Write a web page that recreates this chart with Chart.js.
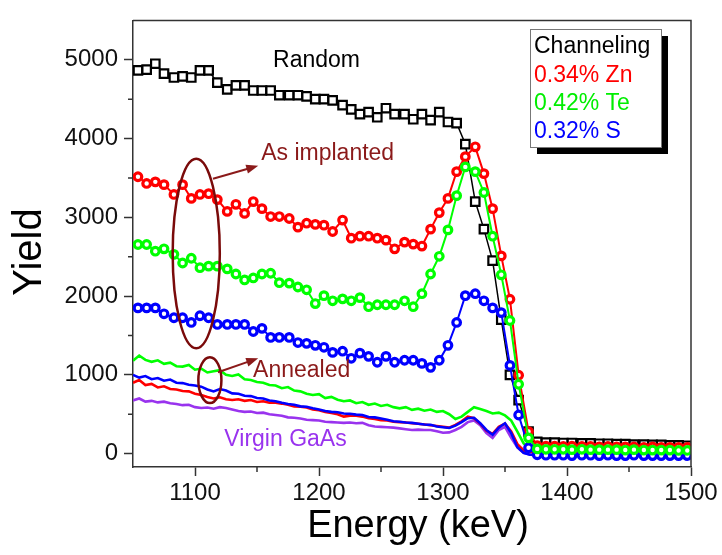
<!DOCTYPE html>
<html>
<head>
<meta charset="utf-8">
<script src="https://cdn.jsdelivr.net/npm/chart.js@4.4.0/dist/chart.umd.min.js"></script>
<style>
  html, body { margin: 0; padding: 0; background: #fff; }
  #wrap { width: 722px; height: 555px; }
</style>
</head>
<body>
<div id="wrap"><canvas id="rbsChart"></canvas></div>
<script>
const FONT = "Arial, 'Liberation Sans', sans-serif";

// channel energies (keV) for the implanted / random spectra
const energy = [1054, 1061, 1068, 1075, 1083, 1090, 1097, 1104, 1111, 1118, 1126, 1133, 1140, 1147, 1154, 1161,
  1168, 1176, 1183, 1190, 1197, 1204, 1211, 1219, 1226, 1233, 1240, 1247, 1254, 1261, 1269, 1276, 1283, 1290,
  1297, 1304, 1311, 1318, 1326, 1333, 1340, 1347, 1354, 1361, 1369, 1376, 1383, 1390, 1397, 1404, 1412, 1419,
  1426, 1433, 1440, 1447, 1454, 1462, 1469, 1476, 1483, 1490, 1497];

const random = [4865, 4875, 4950, 4825, 4775, 4790, 4775, 4865, 4865, 4710, 4625, 4675, 4675, 4610, 4610, 4610,
  4550, 4550, 4550, 4535, 4500, 4500, 4485, 4425, 4370, 4310, 4335, 4270, 4385, 4310, 4310, 4245, 4310, 4235,
  4335, 4210, 4195, 3930, 3200, 2850, 2450, 1700, 1000, 680, 280, 150, 140, 140, 135, 135, 130, 130,
  125, 125, 120, 120, 115, 115, 110, 110, 105, 105, 100];

const implZn = [3515, 3430, 3450, 3415, 3290, 3415, 3240, 3290, 3300, 3225, 3075, 3165, 3050, 3200, 3110, 3010,
  3010, 2985, 2875, 2925, 2910, 2900, 2820, 2965, 2735, 2760, 2760, 2735, 2710, 2600, 2685, 2660, 2635, 2850,
  3060, 3240, 3580, 3770, 3895, 3555, 3110, 2510, 1960, 995, 280, 100, 95, 95, 90, 95, 90, 90,
  85, 90, 85, 85, 85, 80, 85, 80, 80, 80, 80];

const implTe = [2655, 2655, 2570, 2600, 2530, 2420, 2480, 2360, 2380, 2380, 2345, 2280, 2205, 2230, 2280, 2290,
  2170, 2165, 2115, 2080, 1905, 2005, 1940, 1965, 1940, 1980, 1865, 1890, 1890, 1890, 1940, 1865, 2030, 2280,
  2505, 2840, 3275, 3640, 3580, 3315, 2760, 2270, 1690, 880, 200, 60, 55, 55, 55, 50, 55, 50,
  50, 50, 50, 45, 50, 45, 45, 45, 45, 40, 40];

const implS = [1850, 1850, 1850, 1775, 1725, 1725, 1665, 1750, 1725, 1640, 1640, 1640, 1640, 1550, 1590, 1475,
  1475, 1475, 1410, 1400, 1375, 1350, 1285, 1300, 1210, 1275, 1235, 1160, 1235, 1160, 1185, 1185, 1145, 1095,
  1185, 1375, 1665, 2005, 2030, 1940, 1850, 1790, 1120, 490, 75, -15, -20, -20, -20, -25, -20, -20,
  -25, -20, -25, -25, -20, -25, -25, -25, -25, -25, -25];

// finer energy grid for the annealed and virgin spectra
const energyFine = [1050, 1055, 1060, 1065, 1070, 1075, 1080, 1085, 1090, 1095, 1100, 1105, 1110, 1115, 1120,
  1125, 1130, 1135, 1140, 1145, 1150, 1155, 1160, 1165, 1170, 1175, 1180, 1185, 1190, 1195, 1200, 1205, 1210,
  1215, 1220, 1225, 1230, 1235, 1240, 1245, 1250, 1255, 1260, 1265, 1270, 1275, 1280, 1285, 1290, 1295, 1300,
  1305, 1310, 1315, 1320, 1325, 1330, 1335, 1340, 1345, 1350, 1355, 1360, 1365, 1370,
  1385, 1400, 1420, 1440, 1460, 1480, 1500];

const annTe = [1180, 1245, 1190, 1165, 1185, 1140, 1155, 1110, 1105, 1125, 1065, 1080, 1030, 1045, 1060,
  1000, 985, 1005, 945, 935, 910, 900, 870, 865, 830, 845, 800, 790, 760, 745, 755, 705, 720,
  685, 665, 675, 640, 655, 620, 635, 605, 620, 590, 575, 590, 555, 570, 545, 560, 530, 540,
  500, 440, 470, 530, 590, 565, 540, 510, 520, 485, 420, 280, 130, 70,
  60, 55, 50, 50, 45, 45, 40];

const annS = [1000, 965, 985, 945, 960, 925, 940, 900, 895, 875, 865, 850, 815, 790, 820,
  800, 765, 760, 735, 730, 705, 700, 675, 665, 645, 630, 620, 600, 595, 575, 560, 540, 530,
  525, 510, 505, 495, 490, 465, 460, 445, 430, 410, 405, 395, 390, 380, 370, 365, 345, 335,
  325, 355, 400, 450, 455, 385, 300, 240, 330, 385, 260, 80, 10, -15,
  -20, -20, -20, -20, -20, -20, -20];

const annZn = [900, 935, 870, 885, 840, 855, 820, 815, 795, 790, 760, 745, 720, 700, 715,
  690, 680, 690, 670, 680, 655, 665, 645, 645, 635, 620, 600, 595, 585, 560, 550, 530, 515,
  500, 470, 480, 480, 470, 450, 440, 425, 420, 405, 400, 395, 385, 380, 370, 360, 350, 340,
  330, 365, 410, 470, 450, 380, 290, 250, 340, 380, 280, 120, 40, 25,
  20, 20, 20, 20, 20, 20, 20];

const virgin = [675, 700, 660, 670, 650, 660, 640, 630, 615, 620, 590, 580, 585, 570, 590,
  580, 560, 540, 530, 535, 515, 520, 500, 490, 480, 460, 455, 445, 430, 425, 420, 405, 400,
  395, 390, 395, 385, 390, 360, 345, 340, 335, 330, 320, 310, 300, 305, 300, 300, 285, 265,
  270, 300, 340, 400, 420, 360, 260, 200, 300, 340, 200, 80, 10, -10,
  -10, -10, -10, -10, -10, -10, -10];

const xTicks = [1100, 1200, 1300, 1400, 1500];
const yTicks = [0, 1000, 2000, 3000, 4000, 5000];
const xMinor = [1150, 1250, 1350, 1450];
const yMinor = [500, 1500, 2500, 3500, 4500];

const legendLines = ['Channeling', '0.34% Zn', '0.42% Te', '0.32% S'];
const legendColors = ['#000000', '#ff0000', '#00ee00', '#0000ff'];

const RED = '#ff0000', GREEN = '#00ff00', BLUE = '#0000ff', PURPLE = '#9933ee', DARKRED = '#8b1a1a';

const pts = (xs, ys) => xs.map((x, i) => ({ x: x, y: ys[i] }));

function circles(label, ys, color) {
  return {
    label: label,
    data: pts(energy, ys),
    borderColor: color,
    borderWidth: 2,
    pointStyle: 'circle',
    pointRadius: 3.8,
    pointBorderWidth: 3.2,
    pointBorderColor: color,
    pointBackgroundColor: '#ffffff',
    tension: 0
  };
}

function noisy(label, ys, color) {
  return {
    label: label,
    data: pts(energyFine, ys),
    borderColor: color,
    borderWidth: 2.6,
    pointRadius: 0,
    tension: 0
  };
}

// frame, minor ticks, titles, annotations and the text legend
const decorations = {
  id: 'decorations',
  afterDatasetsDraw(chart) {
    const { ctx, chartArea: a, scales: { x, y } } = chart;
    ctx.save();

    // box around the plot
    ctx.strokeStyle = '#333';
    ctx.lineWidth = 1.5;
    ctx.beginPath();
    ctx.moveTo(a.left, a.top);
    ctx.lineTo(a.right, a.top);
    ctx.lineTo(a.right, a.bottom);
    ctx.stroke();

    // minor ticks
    ctx.beginPath();
    xMinor.forEach(v => {
      const px = x.getPixelForValue(v);
      ctx.moveTo(px, a.bottom);
      ctx.lineTo(px, a.bottom + 5);
    });
    yMinor.forEach(v => {
      const py = y.getPixelForValue(v);
      ctx.moveTo(a.left, py);
      ctx.lineTo(a.left - 5, py);
    });
    ctx.stroke();

    // ellipses marking the spectra groups
    ctx.strokeStyle = '#7a0a0a';
    ctx.lineWidth = 2.5;
    const ellipse = (cx, cy, rx, ry) => {
      const px = x.getPixelForValue(cx), py = y.getPixelForValue(cy);
      const rpx = Math.abs(x.getPixelForValue(cx + rx) - px);
      const rpy = Math.abs(y.getPixelForValue(cy + ry) - py);
      ctx.beginPath();
      ctx.ellipse(px, py, rpx, rpy, 0, 0, Math.PI * 2);
      ctx.stroke();
    };
    ellipse(1101, 2540, 19, 1203);
    ellipse(1112, 932, 9.3, 290);

    // arrows
    const arrow = (x0, y0, x1, y1) => {
      const ax = x.getPixelForValue(x0), ay = y.getPixelForValue(y0);
      const bx = x.getPixelForValue(x1), by = y.getPixelForValue(y1);
      const ang = Math.atan2(by - ay, bx - ax);
      ctx.strokeStyle = DARKRED;
      ctx.fillStyle = DARKRED;
      ctx.lineWidth = 2;
      ctx.beginPath();
      ctx.moveTo(ax, ay);
      ctx.lineTo(bx - 8 * Math.cos(ang), by - 8 * Math.sin(ang));
      ctx.stroke();
      ctx.beginPath();
      ctx.moveTo(bx, by);
      ctx.lineTo(bx - 12 * Math.cos(ang) + 4.5 * Math.sin(ang), by - 12 * Math.sin(ang) - 4.5 * Math.cos(ang));
      ctx.lineTo(bx - 12 * Math.cos(ang) - 4.5 * Math.sin(ang), by - 12 * Math.sin(ang) + 4.5 * Math.cos(ang));
      ctx.closePath();
      ctx.fill();
    };
    arrow(1114.5, 3490, 1151, 3654);
    arrow(1118.5, 1033, 1151, 1210);

    // labels on the plot
    ctx.font = '23px ' + FONT;
    ctx.textAlign = 'center';
    ctx.textBaseline = 'middle';
    const label = (t, vx, vy, color) => {
      ctx.fillStyle = color;
      ctx.fillText(t, x.getPixelForValue(vx), y.getPixelForValue(vy));
    };
    label('Random', 1198, 4990, '#000');
    label('As implanted', 1207, 3805, DARKRED);
    label('Annealed', 1186, 1058, DARKRED);
    label('Virgin GaAs', 1173, 176, PURPLE);

    // legend box with drop shadow
    ctx.fillStyle = '#000';
    ctx.fillRect(537, 36, 131, 118);
    ctx.fillStyle = '#fff';
    ctx.fillRect(530, 29, 131, 118);
    ctx.strokeStyle = '#777';
    ctx.lineWidth = 1;
    ctx.strokeRect(530.5, 29.5, 131, 118);
    ctx.textAlign = 'left';
    legendLines.forEach((t, i) => {
      ctx.fillStyle = legendColors[i];
      ctx.fillText(t, 534, 47 + i * 28.3);
    });

    // axis titles
    ctx.fillStyle = '#000';
    ctx.textAlign = 'center';
    ctx.font = '38px ' + FONT;
    ctx.fillText('Energy (keV)', 418, 527);
    ctx.translate(30, 252);
    ctx.rotate(-Math.PI / 2);
    ctx.font = '40px ' + FONT;
    ctx.fillText('Yield', 0, 0);

    ctx.restore();
  }
};

const axisStyle = {
  grid: { drawOnChartArea: false, tickLength: 9, tickColor: '#333', tickWidth: 1.5 },
  border: { color: '#333', width: 1.5 }
};

new Chart(document.getElementById('rbsChart'), {
  type: 'line',
  data: {
    datasets: [
      circles('0.42% Te', implTe, GREEN),
      circles('0.32% S', implS, BLUE),
      circles('0.34% Zn', implZn, RED),
      {
        label: 'Random',
        data: pts(energy, random),
        borderColor: '#000',
        borderWidth: 1.5,
        pointStyle: 'rect',
        pointRadius: 6,
        pointBorderWidth: 2.2,
        pointBorderColor: '#000',
        pointBackgroundColor: '#ffffff',
        tension: 0
      },
      noisy('Annealed Te', annTe, GREEN),
      noisy('Annealed S', annS, BLUE),
      noisy('Annealed Zn', annZn, RED),
      noisy('Virgin GaAs', virgin, PURPLE)
    ]
  },
  options: {
    responsive: true,
    maintainAspectRatio: false,
    animation: false,
    layout: { padding: { top: 17, right: 31, left: 0, bottom: 0 } },
    plugins: {
      legend: { display: false },
      tooltip: { enabled: false }
    },
    scales: {
      x: {
        type: 'linear',
        min: 1050,
        max: 1500,
        afterBuildTicks: s => { s.ticks = xTicks.map(v => ({ value: v })); },
        afterFit: s => { s.height = 88; },
        ...axisStyle,
        ticks: { font: { family: FONT, size: 24 }, color: '#111', padding: 3, maxRotation: 0, callback: v => String(v) }
      },
      y: {
        type: 'linear',
        min: -170,
        max: 5500,
        afterBuildTicks: s => { s.ticks = yTicks.map(v => ({ value: v })); },
        afterFit: s => { s.width = 133; },
        ...axisStyle,
        ticks: { font: { family: FONT, size: 24 }, color: '#111', padding: 6, callback: v => String(v) }
      }
    }
  },
  plugins: [decorations]
});
</script>
</body>
</html>
